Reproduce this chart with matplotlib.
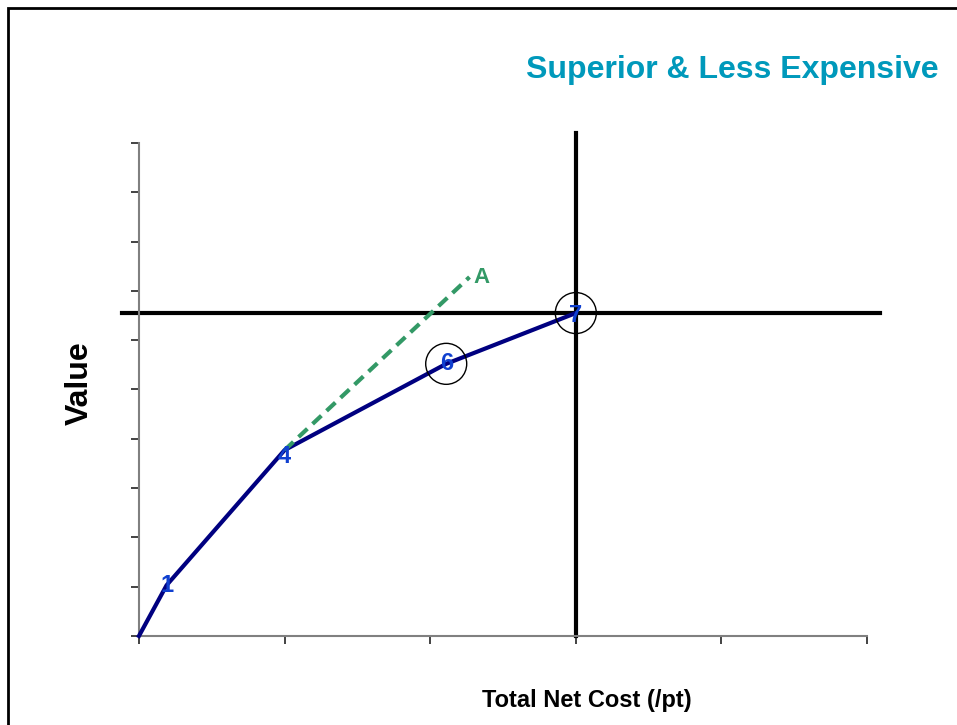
import matplotlib.pyplot as plt
from matplotlib.patches import Rectangle, Ellipse

plt.rcParams['font.family'] = ['Liberation Sans', 'DejaVu Sans']

# dati
cost = [0.0, 0.19, 1.0, 2.11, 3.0]
value = [0.0, 1.03, 3.77, 5.52, 6.55]
point_labels = ['', '1', '4', '6', '7']
label_dy = [0, 0.0, -0.12, 0.0, -0.05]  # piccolo scostamento dell'etichetta
circled = ['6', '7']

alt_cost = [1.0, 2.27]
alt_value = [3.77, 7.28]
alt_label = 'A'

ref_cost = 3.0
ref_value = 6.55

fig = plt.figure(figsize=(9.57, 7.25), dpi=100)
ax = fig.add_axes([0.1452, 0.1228, 0.7608, 0.68])

ax.set_xlim(0, 5)
ax.set_ylim(0, 10)
ax.set_xticks(range(0, 6))
ax.set_yticks(range(0, 11))
ax.set_xticklabels([])
ax.set_yticklabels([])
ax.tick_params(direction='out', length=6, width=1.2, color='#222222')
for side in ['top', 'right']:
    ax.spines[side].set_visible(False)
for side in ['left', 'bottom']:
    ax.spines[side].set_color('#808080')
    ax.spines[side].set_linewidth(1.5)

# linee di riferimento (escono dagli assi)
ax.plot([-0.117, 5.09], [ref_value, ref_value], color='black', lw=3, clip_on=False, zorder=2)
ax.plot([ref_cost, ref_cost], [0, 10.2], color='black', lw=3, clip_on=False, zorder=2)

ax.plot(cost, value, color='#000080', lw=3, clip_on=False, zorder=3)
ax.plot(alt_cost, alt_value, color='#339966', lw=3, ls=(0, (2.9, 1.7)), zorder=3)
ax.text(alt_cost[1] + 0.03, alt_value[1] + 0.0, alt_label, color='#339966',
        fontsize=16, fontweight='bold', ha='left', va='center')

for x, y, lab, dy in zip(cost, value, point_labels, label_dy):
    if not lab:
        continue
    ax.text(x, y + dy, lab, color='#1040D0', fontsize=17, fontweight='bold',
            ha='center', va='center', zorder=4)
    if lab in circled:
        ax.add_patch(Ellipse((x, y), 41 / 145.6, 41 / 49.3, fill=False,
                             edgecolor='black', lw=1, clip_on=False, zorder=4))

fig.text(732 / 957, 1 - 70 / 725, 'Superior & Less Expensive', color='#0099BB',
         fontsize=23, fontweight='bold', ha='center', va='center')
fig.text(80 / 957, 1 - 383 / 725, 'Value', rotation=90, fontsize=23,
         fontweight='bold', ha='center', va='center')
fig.text(587 / 957, 1 - 700 / 725, 'Total Net Cost (/pt)', fontsize=17,
         fontweight='bold', ha='center', va='center')

# cornice della slide
fig.patches.append(Rectangle((8 / 957, -0.2), 1.2, 1.2 - 8 / 725,
                             transform=fig.transFigure, fill=False,
                             edgecolor='black', lw=2))

fig.savefig('out.png', dpi=100)
